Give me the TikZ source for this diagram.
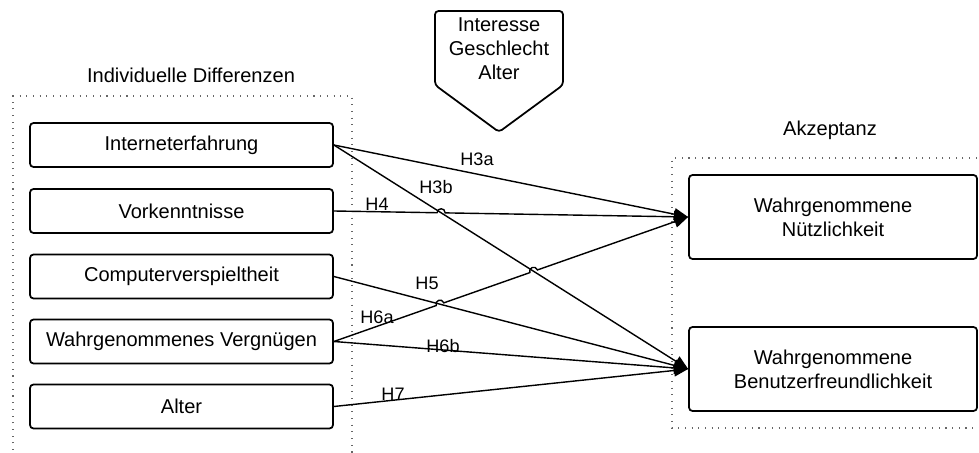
\documentclass[tikz,border=0pt]{standalone}
\usepackage{fontspec}
\setmainfont{Liberation Sans}
\usetikzlibrary{positioning, calc, intersections, arrows.meta}

\tikzset{
	box/.style={draw,rectangle,rounded corners=2pt,line width=1pt,minimum width=303*0.2mm,minimum height=44*0.2mm,font=\fontsize{11.4}{13.7}\selectfont},
	bigbox/.style={box,align=center,minimum width=288*0.2mm,minimum height=84*0.2mm},
	group/.style={gray!80!black,line width=0.8pt,dash pattern=on 0.6pt off 3.2pt},
	title/.style={font=\fontsize{11.4}{13.7}\selectfont},
	hyp/.style={font=\fontsize{10.3}{12}\selectfont,inner sep=1pt},
	rel/.style={line width=0.8pt,-{Triangle[length=8pt,width=6.8pt]}},
	hop/.style={bend left=90,looseness=1.7}
}
\newcommand{\hopgap}{2.3pt}

\begin{document}
\begin{tikzpicture}[x=0.2mm,y=-0.2mm]
	\useasboundingbox (0,0) rectangle (979,453);
	% groups
	\draw[group] (13,470) -- (13,96) -- (352,96) -- (352,470);
	\draw[group] (990,158) -- (672,158) -- (672,428) -- (990,428);
	\node[title] (indiv) at (191,75) {Individuelle Differenzen};
	\node[title] (akzept) at (830,130) {Akzeptanz};
	% moderators
	\draw[line width=1pt,rounded corners=2pt] (435,11) -- (563,11) -- (563,85) -- (499,132) -- (435,85) -- cycle;
	\node[title,align=center] (moder) at (499,49) {Interesse\\Geschlecht\\Alter};
	% factors
	\node[box] (interfahr) at (181.5,145) {Interneterfahrung};
	\node[box] (vorkennt) at (181.5,211) {Vorkenntnisse};
	\node[box] (compspiel) at (181.5,276.5) {Computerverspieltheit};
	\node[box] (vergnuegen) at (181.5,341.5) {Wahrgenommenes Vergnügen};
	\node[box] (alter) at (181.5,406.5) {Alter};
	% acceptance
	\node[bigbox] (nuetz) at (833,217) {Wahrgenommene\\Nützlichkeit};
	\node[bigbox] (benutz) at (833,369) {Wahrgenommene\\Benutzerfreundlichkeit};
	% crossings
	\path[name path=pHdb] (interfahr.east) -- (benutz.west);
	\path[name path=pHv] (vorkennt.east) -- (nuetz.west);
	\path[name path=pHf] (compspiel.east) -- (benutz.west);
	\path[name path=pHsa] (vergnuegen.east) -- (nuetz.west);
	\path[name intersections={of=pHdb and pHv, by=xa}];
	\path[name intersections={of=pHdb and pHsa, by=xb}];
	\path[name intersections={of=pHf and pHsa, by=xc}];
	% hypotheses
	\draw[rel] (interfahr.east) -- (nuetz.west);
	\draw[rel] (interfahr.east) -- (benutz.west);
	\draw[rel] (vorkennt.east) -- ($(xa)!\hopgap!(vorkennt.east)$) to[hop] ($(xa)!\hopgap!(nuetz.west)$) -- (nuetz.west);
	\draw[rel] (compspiel.east) -- (benutz.west);
	\draw[rel] (vergnuegen.east) -- ($(xc)!\hopgap!(vergnuegen.east)$) to[hop] ($(xc)!\hopgap!(nuetz.west)$)
		-- ($(xb)!\hopgap!(vergnuegen.east)$) to[hop] ($(xb)!\hopgap!(nuetz.west)$) -- (nuetz.west);
	\draw[rel] (vergnuegen.east) -- (benutz.west);
	\draw[rel] (alter.east) -- (benutz.west);
	\node[hyp] (hda) at (477,159) {H3a};
	\node[hyp] (hdb) at (436,187) {H3b};
	\node[hyp] (hv) at (377,204) {H4};
	\node[hyp] (hf) at (427,283) {H5};
	\node[hyp] (hsa) at (377,317) {H6a};
	\node[hyp] (hsb) at (443,346) {H6b};
	\node[hyp] (hs) at (393,394) {H7};
\end{tikzpicture}
\end{document}
